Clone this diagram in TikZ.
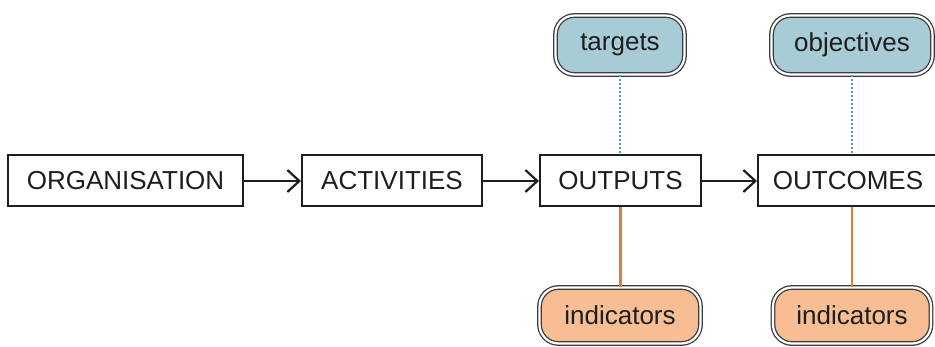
\documentclass[tikz,border=0pt]{standalone}
\usepackage{fontspec}
\setmainfont{Liberation Sans}
\usetikzlibrary{arrows.meta}
\definecolor{pillblue}{RGB}{168,204,214}
\definecolor{pillorange}{RGB}{246,190,146}
\definecolor{pilledge}{RGB}{60,60,60}
\definecolor{dotblue}{RGB}{74,160,185}
\definecolor{lineorange}{RGB}{222,126,40}
\definecolor{ink}{RGB}{30,30,30}
\tikzset{
  stagebox/.style={draw=ink, line width=2pt, fill=white, inner sep=0pt,
    minimum height=51pt, text=ink, font=\fontsize{26}{30}\selectfont},
  pill/.style={draw=pilledge, line width=1.3pt, double=white, double distance=2.2pt,
    rounded corners=19pt, inner sep=0pt, text=ink, font=\fontsize{26}{30}\selectfont},
  bluepill/.style={pill, fill=pillblue},
  orangepill/.style={pill, fill=pillorange},
  flow/.style={draw=ink, line width=2.2pt, -{Straight Barb[length=12pt,width=22pt,line width=2.2pt]}},
  dotlink/.style={draw=dotblue, line width=1.8pt, dash pattern=on 1.8pt off 2.2pt},
  solidlink/.style={draw=lineorange, line width=2.2pt}
}
\begin{document}
\begin{tikzpicture}[x=1pt,y=-1pt]
\useasboundingbox (0,0) rectangle (935,347);
\clip (0,0) rectangle (935,347);
\node[stagebox, minimum width=235pt] (org) at (125.5,181) {ORGANISATION};
\node[stagebox, minimum width=180pt] (act) at (392,181) {ACTIVITIES};
\node[stagebox, minimum width=161pt] (outp) at (620.5,181) {OUTPUTS};
\node[stagebox, minimum width=180pt] (outc) at (848,181) {OUTCOMES};
\node[bluepill, minimum width=129pt, minimum height=59pt] (tgt) at (620,45) {targets};
\node[bluepill, minimum width=161pt, minimum height=59pt] (obj) at (852,45) {objectives};
\node[orangepill, minimum width=161pt, minimum height=56pt] (ind1) at (620,315.5) {indicators};
\node[orangepill, minimum width=158pt, minimum height=56pt] (ind2) at (852,315.5) {indicators};
\draw[flow] (org) -- (act);
\draw[flow] (act) -- (outp);
\draw[flow] (outp) -- (outc.west);
\draw[dotlink] (tgt.south) -- (tgt.south |- outp.north);
\draw[dotlink] (obj.south) -- (obj.south |- outc.north);
\draw[solidlink] (outp.south) -- (outp.south |- ind1.north);
\draw[solidlink] (ind2.north |- outc.south) -- (ind2.north);
\end{tikzpicture}
\end{document}
